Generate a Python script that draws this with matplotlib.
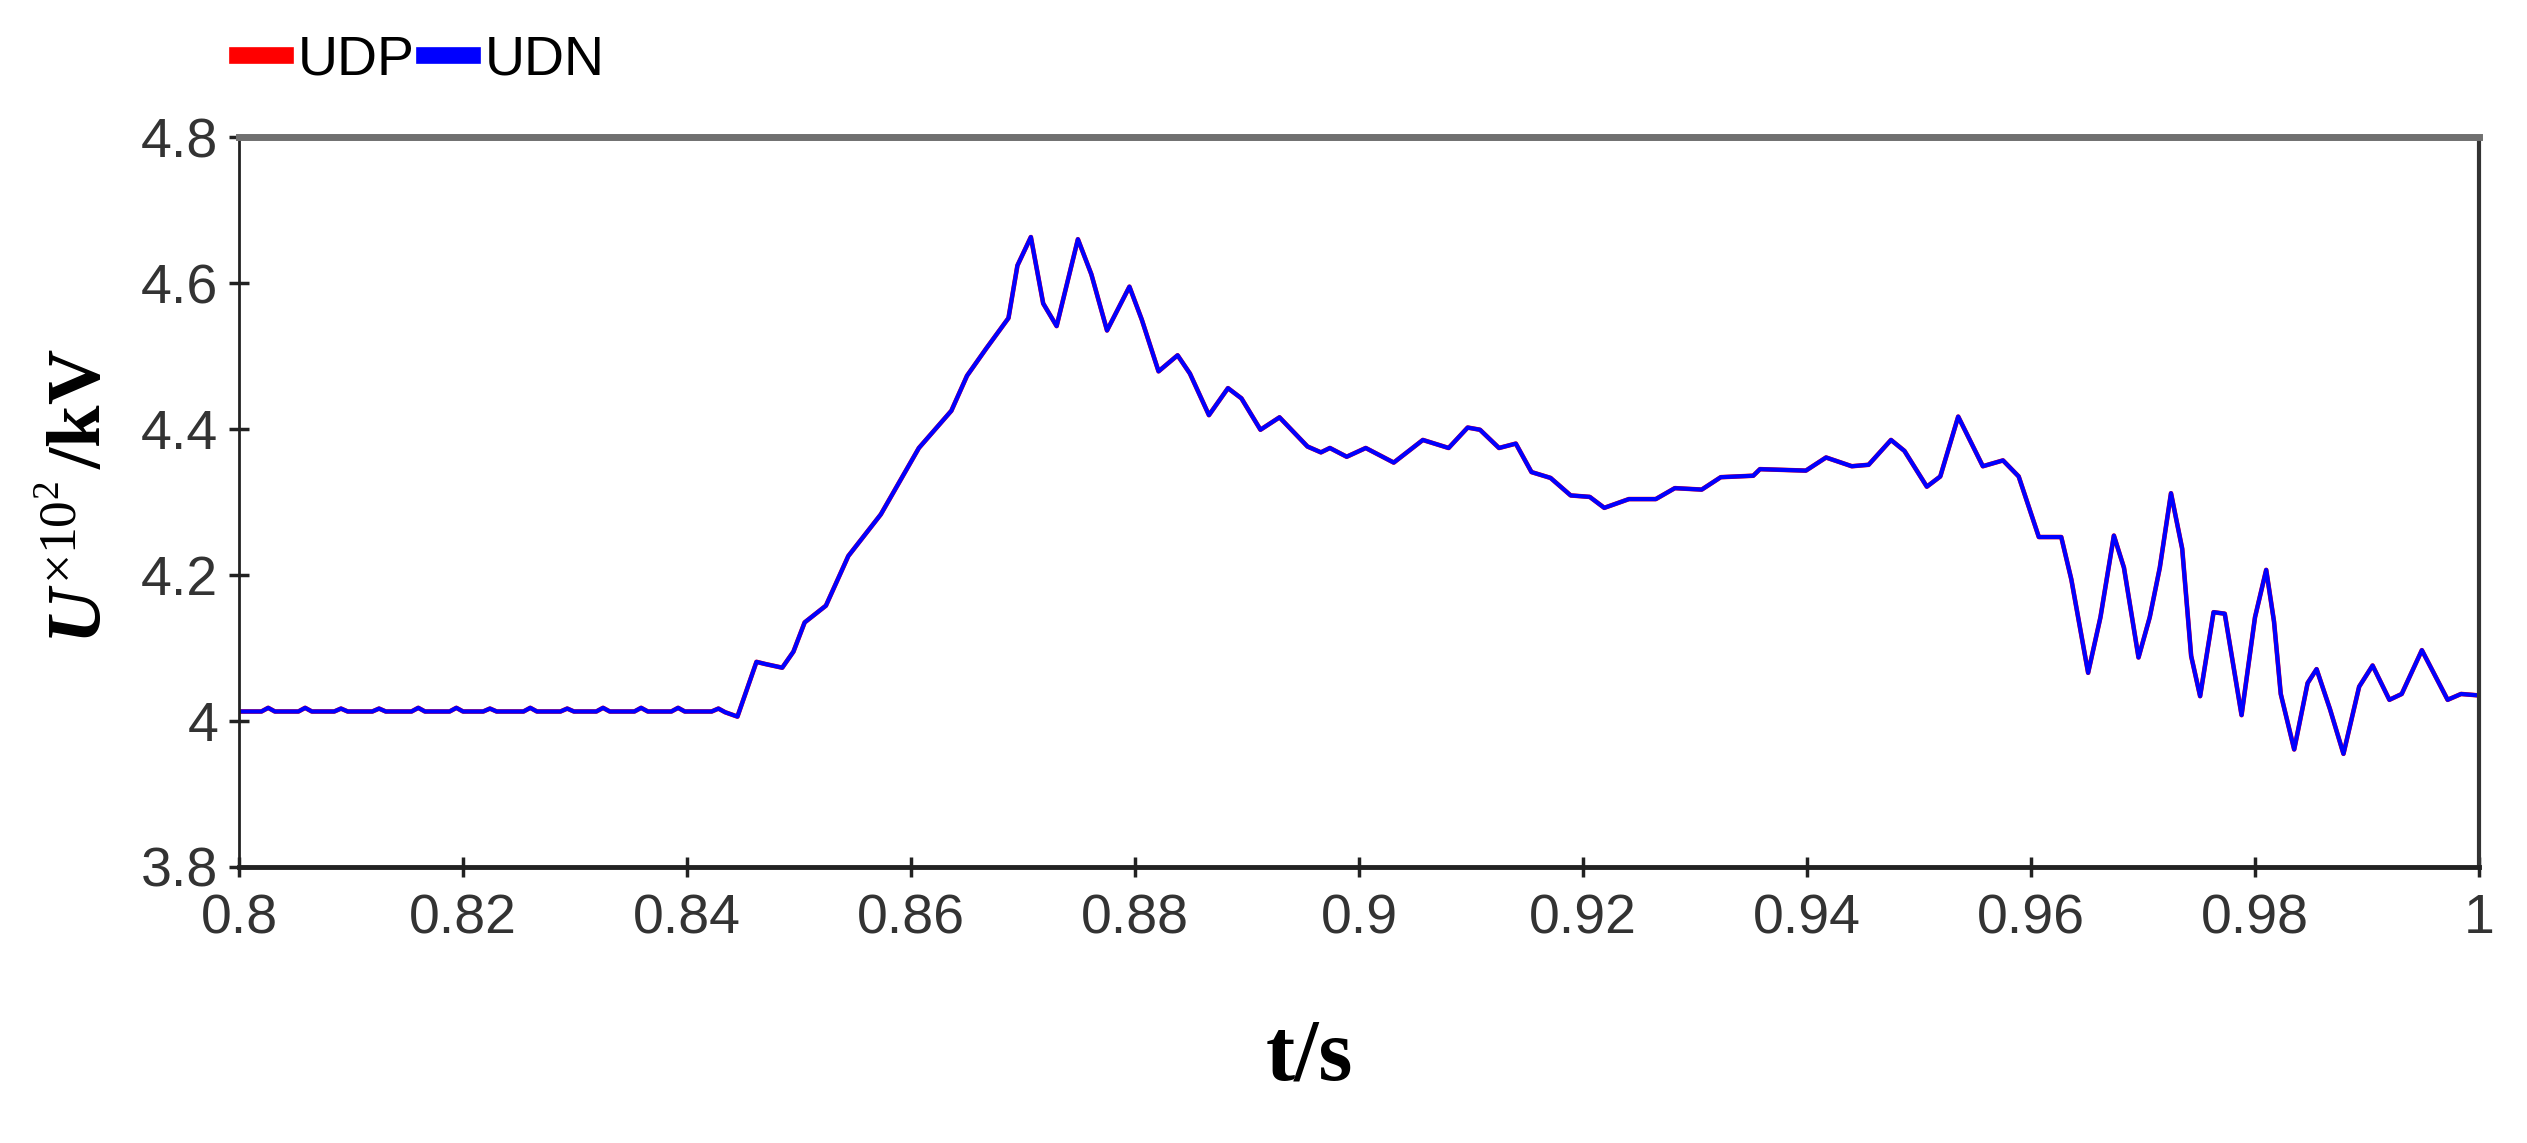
import matplotlib
matplotlib.use("Agg")
import matplotlib.pyplot as plt
from matplotlib.ticker import FuncFormatter

# time (s) and voltage (x100 kV)
t = [0.8000, 0.8020, 0.8026, 0.8032, 0.8053, 0.8059, 0.8065, 0.8085, 0.8091, 0.8097,
     0.8119, 0.8125, 0.8131, 0.8154, 0.8160, 0.8166, 0.8188, 0.8194, 0.8200, 0.8218,
     0.8224, 0.8230, 0.8254, 0.8260, 0.8266, 0.8287, 0.8293, 0.8299, 0.8319, 0.8325,
     0.8331, 0.8353, 0.8359, 0.8365, 0.8386, 0.8392, 0.8398, 0.8422, 0.8428, 0.8434,
     0.8445, 0.8462, 0.8470, 0.8485, 0.8495, 0.8505, 0.8524, 0.8544, 0.8573, 0.8607,
     0.8636, 0.8650, 0.8667, 0.8687, 0.8695, 0.8707, 0.8718, 0.8730, 0.8749, 0.8761,
     0.8775, 0.8795, 0.8806, 0.8821, 0.8838, 0.8849, 0.8866, 0.8883, 0.8895, 0.8912,
     0.8929, 0.8954, 0.8966, 0.8974, 0.8989, 0.9006, 0.9031, 0.9057, 0.9080, 0.9097,
     0.9108, 0.9125, 0.9140, 0.9154, 0.9171, 0.9189, 0.9206, 0.9219, 0.9241, 0.9265,
     0.9282, 0.9306, 0.9323, 0.9352, 0.9358, 0.9399, 0.9417, 0.9440, 0.9455, 0.9475,
     0.9487, 0.9507, 0.9519, 0.9535, 0.9557, 0.9575, 0.9589, 0.9607, 0.9627, 0.9636,
     0.9651, 0.9662, 0.9674, 0.9683, 0.9696, 0.9706, 0.9715, 0.9725, 0.9735, 0.9743,
     0.9751, 0.9763, 0.9773, 0.9788, 0.9800, 0.9810, 0.9817, 0.9823, 0.9835, 0.9847,
     0.9855, 0.9867, 0.9879, 0.9893, 0.9905, 0.9920, 0.9931, 0.9949, 0.9972, 0.9984,
     1.0000]

udp = [4.013, 4.013, 4.018, 4.013, 4.013, 4.018, 4.013, 4.013, 4.017, 4.013,
       4.013, 4.017, 4.013, 4.013, 4.018, 4.013, 4.013, 4.018, 4.013, 4.013,
       4.017, 4.013, 4.013, 4.018, 4.013, 4.013, 4.017, 4.013, 4.013, 4.018,
       4.013, 4.013, 4.018, 4.013, 4.013, 4.018, 4.013, 4.013, 4.017, 4.012,
       4.006, 4.081, 4.078, 4.073, 4.095, 4.135, 4.158, 4.226, 4.283, 4.374,
       4.425, 4.473, 4.510, 4.552, 4.624, 4.663, 4.572, 4.541, 4.660, 4.612,
       4.535, 4.595, 4.550, 4.479, 4.501, 4.476, 4.419, 4.456, 4.442, 4.399,
       4.416, 4.376, 4.368, 4.374, 4.362, 4.374, 4.354, 4.385, 4.374, 4.402,
       4.399, 4.374, 4.380, 4.341, 4.333, 4.309, 4.307, 4.292, 4.304, 4.304,
       4.319, 4.317, 4.334, 4.336, 4.345, 4.343, 4.361, 4.349, 4.351, 4.385,
       4.370, 4.321, 4.335, 4.417, 4.349, 4.357, 4.335, 4.252, 4.252, 4.194,
       4.066, 4.142, 4.254, 4.210, 4.087, 4.142, 4.210, 4.312, 4.236, 4.089,
       4.034, 4.149, 4.147, 4.008, 4.142, 4.207, 4.136, 4.037, 3.961, 4.052,
       4.071, 4.016, 3.955, 4.047, 4.076, 4.029, 4.037, 4.097, 4.029, 4.037,
       4.035]

# the two poles are practically on top of each other
udn = list(udp)

x_ticks = [0.8, 0.82, 0.84, 0.86, 0.88, 0.9, 0.92, 0.94, 0.96, 0.98, 1.0]
y_ticks = [3.8, 4.0, 4.2, 4.4, 4.6, 4.8]

plt.rcParams['mathtext.fontset'] = 'custom'
plt.rcParams['mathtext.rm'] = 'Liberation Serif'
plt.rcParams['mathtext.it'] = 'Liberation Serif:italic:bold'
plt.rcParams['mathtext.bf'] = 'Liberation Serif:bold'

narrow = ['Liberation Sans Narrow', 'Liberation Sans', 'DejaVu Sans']

fig = plt.figure(figsize=(25.27, 11.43), dpi=100)
ax = fig.add_axes([0.0946, 0.2415, 0.8864, 0.6386])

ax.plot(t, udp, color='red', lw=3.3, label='UDP', solid_joinstyle='round')
ax.plot(t, udn, color='blue', lw=3.0, label='UDN', solid_joinstyle='round')

ax.set_xlim(0.8, 1.0)
ax.set_ylim(3.8, 4.8)
ax.set_xticks(x_ticks)
ax.set_yticks(y_ticks)
ax.xaxis.set_major_formatter(FuncFormatter(lambda v, p: '%g' % round(v, 4)))
ax.yaxis.set_major_formatter(FuncFormatter(lambda v, p: '%g' % round(v, 4)))

ax.tick_params(axis='both', direction='inout', length=14, width=2.5, color='#222222',
               labelsize=40, labelcolor='#333333')
ax.tick_params(axis='x', pad=12)
ax.tick_params(axis='y', pad=8)
for lab in ax.get_xticklabels() + ax.get_yticklabels():
    lab.set_family(narrow)

ax.spines['top'].set_color('#707070')
ax.spines['top'].set_linewidth(5)
ax.spines['right'].set_color('#333333')
ax.spines['right'].set_linewidth(3)
ax.spines['bottom'].set_color('#222222')
ax.spines['bottom'].set_linewidth(3.5)
ax.spines['left'].set_color('#222222')
ax.spines['left'].set_linewidth(2)

leg = fig.legend(loc='center left', bbox_to_anchor=(0.0938, 0.9475), ncol=2,
                 frameon=False, borderpad=0, borderaxespad=0, handlelength=0.87,
                 handletextpad=0.22, columnspacing=0.17,
                 prop={'family': narrow, 'size': 40})
for h in leg.get_lines():
    h.set_linewidth(12)

fig.text(0.518, 0.074, 't/s', ha='center', va='center', fontsize=63,
         family='Liberation Serif', weight='bold')
fig.text(0.032, 0.566, r'$\mathit{U}^{\times10^{2}}\,$/kV', ha='center', va='center',
         rotation=90, fontsize=55, family='Liberation Serif', weight='bold')

fig.savefig('out.png', dpi=100)
